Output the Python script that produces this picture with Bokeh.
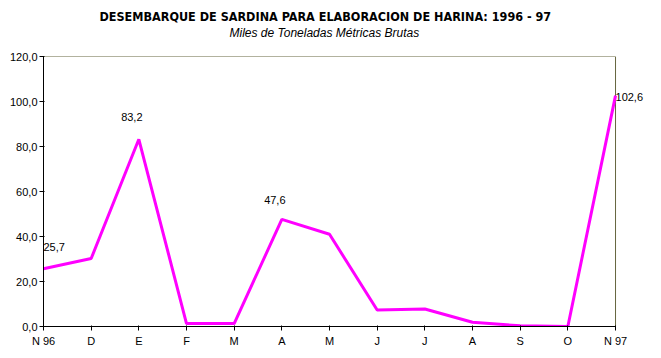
from bokeh.plotting import figure
from bokeh.models import Range1d, FixedTicker, Title, ColumnDataSource, LabelSet
from bokeh.core.properties import value
from bokeh.embed import file_html
from bokeh.resources import INLINE

months = ["N 96", "D", "E", "F", "M", "A", "M", "J", "J", "A", "S", "O", "N 97"]
landings = [25.7, 30.2, 83.2, 1.3, 1.3, 47.6, 41.0, 7.3, 7.8, 1.9, 0.3, 0.0, 102.6]
y_ticks = [0, 20, 40, 60, 80, 100, 120]
y_tick_labels = ["0,0", "20,0", "40,0", "60,0", "80,0", "100,0", "120,0"]
label_idx = [0, 2, 5, 12]
label_texts = ["25,7", "83,2", "47,6", "102,6"]

xs = list(range(len(months)))
x_last = xs[-1]
y_top = y_ticks[-1]

# frame extends a little past the last category so the last value label is not clipped
p = figure(width=661, height=358, output_backend="svg", toolbar_location=None,
           x_range=Range1d(xs[0], x_last + 0.65), y_range=Range1d(y_ticks[0], y_top),
           min_border_left=43, min_border_right=15, min_border_bottom=32, min_border_top=56)
p.background_fill_color = "white"
p.border_fill_color = "white"
p.outline_line_color = None
p.grid.visible = False

p.title.visible = False
spacer = Title(text=" ", text_font_size="10px", standoff=4, text_color="white")
sub = Title(text="Miles de Toneladas Métricas Brutas", align="left", offset=186,
            text_font="Liberation Sans", text_font_style="italic",
            text_font_size="12px", text_color="black", standoff=0)
main = Title(text="DESEMBARQUE DE SARDINA PARA ELABORACION DE HARINA: 1996 - 97",
             align="left", offset=56,
             text_font="DejaVu Sans Condensed", text_font_style="bold",
             text_font_size="12.5px", text_color="black", standoff=0)
p.add_layout(spacer, "above")
p.add_layout(sub, "above")
p.add_layout(main, "above")

# plot-area border (top and right) in olive
border_color = "#66663f"
p.segment(x0=[xs[0], x_last], y0=[y_top, 0], x1=[x_last, x_last], y1=[y_top, y_top],
          line_color=border_color, line_width=1)

p.line(xs, landings, line_color="#ff00ff", line_width=3)

src = ColumnDataSource(dict(
    x=[xs[i] for i in label_idx],
    y=[landings[i] for i in label_idx],
    text=label_texts,
    align=["left", "center", "center", "left"],
    xo=[0, -7, -7, 0],
    yo=[22, 22, 19, -1],
))
labels = LabelSet(x="x", y="y", text="text", source=src, text_align="align",
                  x_offset="xo", y_offset="yo", text_baseline="middle",
                  text_font=value("Liberation Sans"), text_font_size=value("11px"),
                  text_color="black")
p.add_layout(labels)

p.xaxis.ticker = FixedTicker(ticks=xs)
p.xaxis.major_label_overrides = {i: m for i, m in zip(xs, months)}
p.xaxis.bounds = (xs[0], x_last)
p.yaxis.ticker = FixedTicker(ticks=y_ticks)
p.yaxis.major_label_overrides = {t: l for t, l in zip(y_ticks, y_tick_labels)}
for ax in (p.xaxis, p.yaxis):
    ax.axis_line_color = "black"
    ax.axis_line_width = 1
    ax.major_tick_line_color = "black"
    ax.major_tick_in = 1
    ax.major_tick_out = 4
    ax.minor_tick_line_color = None
    ax.major_label_text_font = "Liberation Sans"
    ax.major_label_text_font_size = "11px"
    ax.major_label_text_color = "black"
p.yaxis.major_label_standoff = 2
p.xaxis.major_label_standoff = 4

open("out.html", "w").write(file_html(p, INLINE))
